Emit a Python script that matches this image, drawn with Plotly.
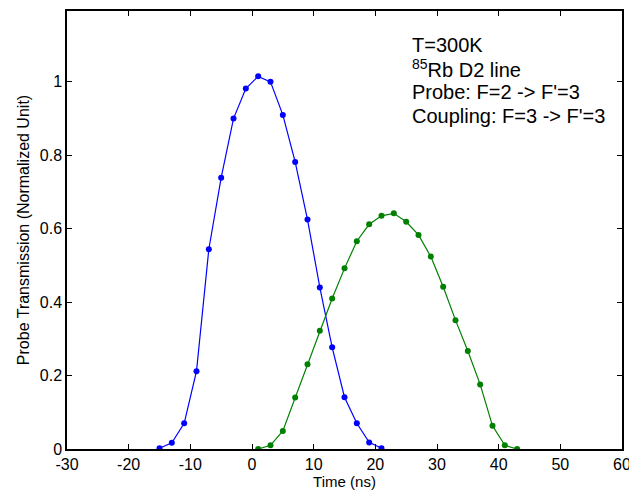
import plotly.graph_objects as go

# Probe (blue) pulse
probe_t = [-15, -13, -11, -9, -7, -5, -3, -1, 1, 3, 5, 7, 9, 11, 13, 15, 17, 19, 21]
probe_v = [0.002, 0.017, 0.07, 0.212, 0.544, 0.739, 0.90, 0.982, 1.015, 1.0,
           0.91, 0.782, 0.625, 0.44, 0.277, 0.141, 0.07, 0.018, 0.002]

# Coupling-delayed (green) pulse
coup_t = [1, 3, 5, 7, 9, 11, 13, 15, 17, 19, 21, 23, 25, 27, 29, 31, 33, 35, 37, 39, 41, 43]
coup_v = [0.0, 0.01, 0.049, 0.140, 0.231, 0.322, 0.41, 0.492, 0.566, 0.612, 0.635,
          0.642, 0.619, 0.583, 0.524, 0.442, 0.351, 0.267, 0.176, 0.063, 0.010, 0.0]

x_ticks = [-30, -20, -10, 0, 10, 20, 30, 40, 50, 60]
y_ticks = [0, 0.2, 0.4, 0.6, 0.8, 1]
y_tick_labels = ["0", "0.2", "0.4", "0.6", "0.8", "1"]

info_lines = ["T=300K", "<sup>85</sup>Rb D2 line", "Probe: F=2 -> F'=3", "Coupling: F=3 -> F'=3"]

FONT = "Liberation Sans, Arial, sans-serif"

fig = go.Figure()
fig.add_trace(go.Scatter(x=probe_t, y=probe_v, mode="lines+markers",
                         line=dict(color="#0000FF", width=1.2),
                         marker=dict(color="#0000FF", size=6),
                         showlegend=False))
fig.add_trace(go.Scatter(x=coup_t, y=coup_v, mode="lines+markers",
                         line=dict(color="#008000", width=1.2),
                         marker=dict(color="#008000", size=6),
                         showlegend=False))

axis_common = dict(showline=True, linecolor="black", linewidth=1.5, mirror="allticks",
                   ticks="inside", ticklen=5, tickcolor="black", tickwidth=1,
                   showgrid=False, zeroline=False, automargin=False,
                   ticklabeloverflow="allow",
                   tickfont=dict(family=FONT, size=16, color="black"))

fig.update_xaxes(range=[-30, 60], tickvals=x_ticks, ticktext=[str(v) for v in x_ticks],
                 title=dict(text="Time (ns)", font=dict(family=FONT, size=15, color="black"), standoff=2),
                 **axis_common)
fig.update_yaxes(range=[0, 1.193], tickvals=y_ticks, ticktext=y_tick_labels,
                 title=dict(text="Probe Transmission (Normalized Unit)",
                            font=dict(family=FONT, size=16, color="black"), standoff=6),
                 **axis_common)

line_y = [0.9223, 0.8686, 0.8142, 0.7607]
for txt, yy in zip(info_lines, line_y):
    fig.add_annotation(text=txt, xref="paper", yref="paper", x=0.618, y=yy,
                       xanchor="left", yanchor="middle", showarrow=False,
                       font=dict(family=FONT, size=20, color="black"))

fig.update_layout(width=629, height=493, margin=dict(l=67, r=7, t=11, b=44),
                  paper_bgcolor="white", plot_bgcolor="white")

fig.write_html("out.html")
